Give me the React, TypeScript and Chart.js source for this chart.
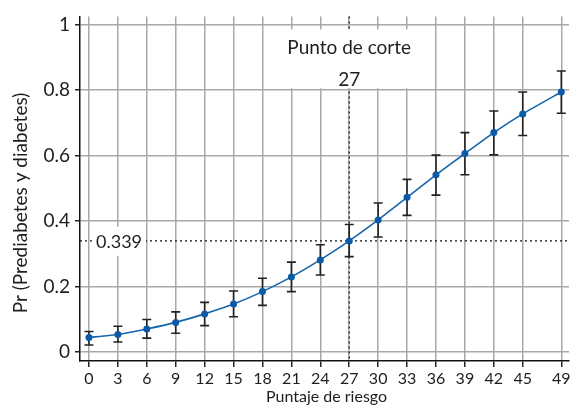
import React, { useEffect, useRef } from 'react';
import { Chart, registerables } from 'chart.js';
Chart.register(...registerables);

const scores = [0, 3, 6, 9, 12, 15, 18, 21, 24, 27, 30, 33, 36, 39, 42, 45, 49];
const probs = [0.044, 0.053, 0.070, 0.090, 0.116, 0.146, 0.184, 0.229, 0.281, 0.339, 0.403, 0.472, 0.541, 0.606, 0.670, 0.727, 0.794];
const lower = [0.021, 0.030, 0.042, 0.057, 0.080, 0.107, 0.142, 0.184, 0.235, 0.291, 0.351, 0.417, 0.479, 0.541, 0.602, 0.661, 0.729];
const upper = [0.062, 0.078, 0.099, 0.122, 0.151, 0.186, 0.225, 0.274, 0.327, 0.389, 0.455, 0.527, 0.601, 0.670, 0.736, 0.794, 0.858];
const yTicks = [0, 0.2, 0.4, 0.6, 0.8, 1];
const cutoffScore = 27;
const cutoffProb = 0.339;
const cutoffTitle = 'Punto de corte';
const yTitle = 'Pr (Prediabetes y diabetes)';
const xTitle = 'Puntaje de riesgo';
const FONT = 'Lato, "Open Sans", sans-serif';
const TEXT = '#1e1e1e';

const overlay = {
  id: 'overlay',
  beforeDatasetsDraw(chart: any) {
    const { ctx, chartArea: a, scales } = chart;
    const x = scales.x;
    const y = scales.y;
    const cx = x.getPixelForValue(cutoffScore);
    const cy = y.getPixelForValue(cutoffProb);
    ctx.save();
    // dotted guides
    ctx.strokeStyle = '#111';
    ctx.lineWidth = 1.2;
    ctx.setLineDash([2, 3]);
    ctx.beginPath();
    ctx.moveTo(cx, a.top);
    ctx.lineTo(cx, a.bottom);
    ctx.moveTo(a.left, cy);
    ctx.lineTo(a.right, cy);
    ctx.stroke();
    ctx.setLineDash([]);
    // top label box
    ctx.fillStyle = '#fff';
    ctx.fillRect(cx - 72, a.top + 13, 144, 59);
    ctx.fillStyle = TEXT;
    ctx.font = `19px ${FONT}`;
    ctx.textAlign = 'center';
    ctx.textBaseline = 'middle';
    ctx.fillText(cutoffTitle, cx, a.top + 31);
    ctx.fillText(String(cutoffScore), cx, a.top + 63);
    // left label box
    ctx.fillStyle = '#fff';
    ctx.fillRect(a.left + 14, cy - 14, 52, 29);
    ctx.fillStyle = TEXT;
    ctx.font = `18px ${FONT}`;
    ctx.textAlign = 'left';
    ctx.fillText(String(cutoffProb), a.left + 16, cy + 1);
    // error bars
    ctx.strokeStyle = '#222';
    ctx.lineWidth = 1.6;
    ctx.beginPath();
    scores.forEach((s, i) => {
      const px = x.getPixelForValue(s);
      const yt = y.getPixelForValue(upper[i]);
      const yb = y.getPixelForValue(lower[i]);
      ctx.moveTo(px, yt);
      ctx.lineTo(px, yb);
      ctx.moveTo(px - 4.5, yt);
      ctx.lineTo(px + 4.5, yt);
      ctx.moveTo(px - 4.5, yb);
      ctx.lineTo(px + 4.5, yb);
    });
    ctx.stroke();
    ctx.restore();
  },
  afterDraw(chart: any) {
    const { ctx, chartArea: a } = chart;
    ctx.save();
    ctx.fillStyle = TEXT;
    ctx.textAlign = 'center';
    ctx.textBaseline = 'middle';
    ctx.font = `19px ${FONT}`;
    ctx.translate(21, 203);
    ctx.rotate(-Math.PI / 2);
    ctx.fillText(yTitle, 0, 0);
    ctx.restore();
    ctx.save();
    ctx.fillStyle = TEXT;
    ctx.textAlign = 'center';
    ctx.textBaseline = 'middle';
    ctx.font = `16px ${FONT}`;
    ctx.fillText(xTitle, (a.left + a.right) / 2 + 2, 397);
    ctx.restore();
  },
};

export default function App() {
  const ref = useRef<HTMLCanvasElement>(null);
  useEffect(() => {
    const chart = new Chart(ref.current as HTMLCanvasElement, {
      type: 'line',
      data: {
        datasets: [
          {
            data: scores.map((s, i) => ({ x: s, y: probs[i] })),
            borderColor: '#1565ad',
            backgroundColor: '#0b5aa6',
            borderWidth: 1.6,
            pointRadius: 3.5,
            pointBorderWidth: 0,
            pointBackgroundColor: '#0b5aa6',
            tension: 0.15,
          },
        ],
      },
      options: {
        responsive: false,
        animation: false,
        layout: { padding: { top: 16, right: 0, left: 0, bottom: 0 } },
        plugins: { legend: { display: false }, tooltip: { enabled: false } },
        scales: {
          x: {
            type: 'linear',
            min: -0.93,
            max: 49.8,
            afterBuildTicks: (s: any) => {
              s.ticks = scores.map((v) => ({ value: v }));
            },
            afterFit: (s: any) => {
              s.height = 46;
              s.paddingLeft = 0;
              s.paddingRight = 0;
            },
            ticks: {
              autoSkip: false,
              maxRotation: 0,
              padding: 2,
              color: TEXT,
              font: { size: 16, family: FONT },
              callback: (v: any) => String(v),
            },
            grid: { color: '#a8a8a8', lineWidth: 1.5, tickColor: '#222', tickLength: 6 },
            border: { color: '#111', width: 1.5 },
          },
          y: {
            type: 'linear',
            min: -0.028,
            max: 1.025,
            afterBuildTicks: (s: any) => {
              s.ticks = yTicks.map((v) => ({ value: v }));
            },
            afterFit: (s: any) => {
              s.width = 80;
            },
            ticks: {
              padding: 5,
              color: TEXT,
              font: { size: 19, family: FONT },
              callback: (v: any) => String(v),
            },
            grid: { color: '#a8a8a8', lineWidth: 1.5, tickColor: '#222', tickLength: 5 },
            border: { color: '#111', width: 1.5 },
          },
        },
      },
      plugins: [overlay],
    } as any);
    return () => chart.destroy();
  }, []);
  return (
    <div style={{ position: 'absolute', left: 0, top: 0, width: 573, height: 407 }}>
      <canvas ref={ref} width={573} height={407} style={{ display: 'block' }} />
    </div>
  );
}
